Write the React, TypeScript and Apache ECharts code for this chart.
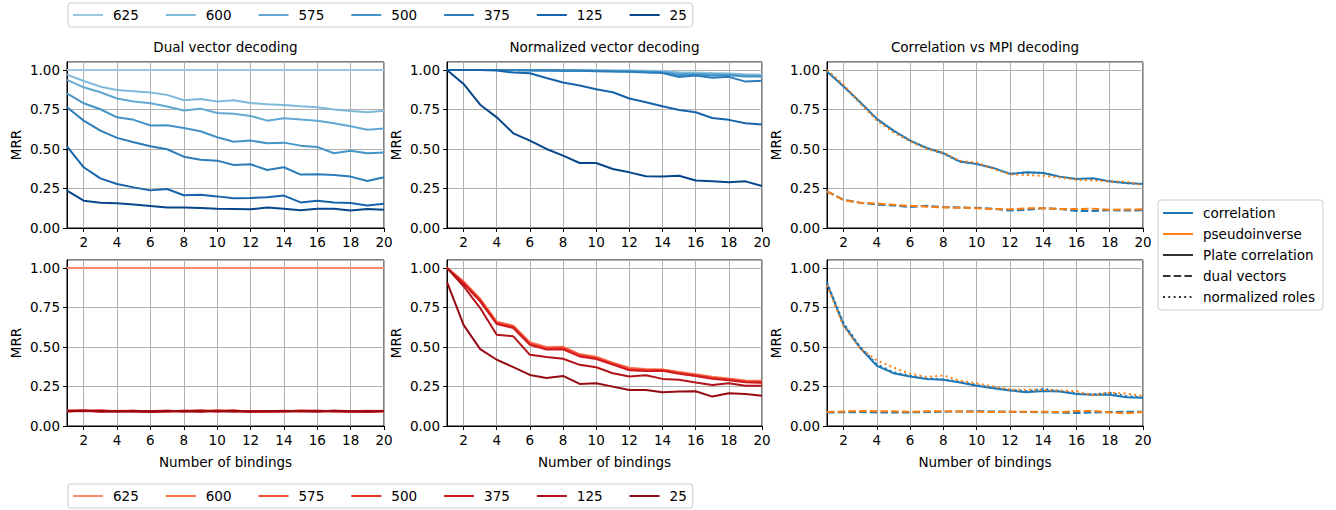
import React, { useEffect, useRef } from "react";
import * as echarts from "echarts";

const xs = ["1","2","3","4","5","6","7","8","9","10","11","12","13","14","15","16","17","18","19","20"];
const sizeLabels = ["625", "600", "575", "500", "375", "125", "25"];
const blueColors = ["#9ac8e0", "#7fb9da", "#62a8d3", "#4594c7", "#2c7dba", "#1764ab", "#08468b"];
const redColors = ["#fc8a6a", "#fb6e4e", "#f5533b", "#e63328", "#cf1c1f", "#b21218", "#960b13"];
const panelTitles = ["Dual vector decoding", "Normalized vector decoding", "Correlation vs MPI decoding"];
const rightLegendNames = ["correlation", "pseudoinverse", "Plate correlation", "dual vectors", "normalized roles"];

// Top-left: dual vector decoding (blues)
const dualB625 = [1,1,1,1,1,1,1,1,1,1,1,1,1,1,1,1,1,1,1,1];
const dualB600 = [0.97,0.93,0.894,0.873,0.865,0.857,0.842,0.808,0.816,0.8,0.808,0.79,0.783,0.778,0.77,0.764,0.749,0.74,0.732,0.742];
const dualB575 = [0.937,0.89,0.859,0.819,0.8,0.789,0.768,0.743,0.755,0.728,0.722,0.709,0.679,0.694,0.686,0.679,0.662,0.643,0.622,0.629];
const dualB500 = [0.852,0.789,0.751,0.7,0.684,0.648,0.65,0.633,0.612,0.574,0.546,0.553,0.536,0.54,0.521,0.513,0.473,0.489,0.473,0.477];
const dualB375 = [0.764,0.679,0.616,0.57,0.542,0.517,0.498,0.451,0.432,0.426,0.399,0.403,0.367,0.384,0.338,0.34,0.335,0.325,0.297,0.321];
const dualB125 = [0.517,0.384,0.314,0.278,0.257,0.238,0.247,0.207,0.211,0.2,0.188,0.19,0.194,0.205,0.162,0.173,0.162,0.158,0.143,0.154];
const dualB25 = [0.236,0.173,0.16,0.156,0.148,0.139,0.129,0.129,0.127,0.122,0.12,0.118,0.129,0.122,0.112,0.122,0.122,0.11,0.12,0.116];

// Top-middle: normalized vector decoding (blues)
const normB625 = [1,1,1,1,1,1,1,0.999,0.999,0.998,0.997,0.997,0.995,0.993,0.985,0.983,0.98,0.978,0.972,0.97];
const normB600 = [1,1,1,1,1,0.999,0.999,0.998,0.997,0.996,0.995,0.994,0.992,0.99,0.98,0.978,0.976,0.975,0.968,0.967];
const normB575 = [1,1,1,1,0.999,0.999,0.998,0.997,0.996,0.995,0.993,0.992,0.99,0.987,0.975,0.975,0.972,0.97,0.963,0.962];
const normB500 = [1,1,1,1,0.999,0.998,0.997,0.996,0.995,0.993,0.991,0.99,0.986,0.983,0.968,0.97,0.965,0.966,0.958,0.958];
const normB375 = [1,1,1,0.999,0.998,0.997,0.996,0.995,0.994,0.992,0.99,0.988,0.984,0.98,0.955,0.965,0.95,0.956,0.926,0.932];
const normB125 = [1,1,1,0.996,0.983,0.979,0.949,0.92,0.901,0.878,0.859,0.819,0.795,0.77,0.747,0.732,0.696,0.684,0.662,0.654];
const normB25 = [1,0.911,0.78,0.7,0.599,0.553,0.5,0.458,0.411,0.411,0.373,0.352,0.327,0.325,0.331,0.3,0.295,0.289,0.295,0.266];

// Bottom-left: dual vector decoding (reds)
const dualR625 = [1,1,1,1,1,1,1,1,1,1,1,1,1,1,1,1,1,1,1,1];
const dualR600 = [0.095,0.098,0.092,0.096,0.094,0.09,0.095,0.093,0.097,0.096,0.097,0.09,0.092,0.094,0.096,0.093,0.095,0.09,0.094,0.092];
const dualR575 = [0.092,0.095,0.1,0.093,0.096,0.092,0.093,0.096,0.092,0.1,0.095,0.093,0.09,0.095,0.093,0.096,0.092,0.093,0.097,0.095];
const dualR500 = [0.098,0.1,0.095,0.092,0.093,0.095,0.097,0.094,0.096,0.092,0.1,0.088,0.094,0.092,0.098,0.095,0.094,0.092,0.09,0.093];
const dualR375 = [0.094,0.097,0.09,0.095,0.097,0.089,0.094,0.095,0.09,0.096,0.093,0.095,0.093,0.097,0.093,0.09,0.097,0.095,0.092,0.096];
const dualR125 = [0.096,0.094,0.096,0.094,0.092,0.093,0.092,0.096,0.098,0.094,0.092,0.094,0.095,0.093,0.095,0.097,0.093,0.091,0.095,0.094];
const dualR25 = [0.093,0.096,0.094,0.092,0.095,0.091,0.096,0.092,0.094,0.093,0.095,0.092,0.093,0.095,0.094,0.094,0.096,0.093,0.092,0.095];

// Bottom-middle: normalized vector decoding (reds)
const normR625 = [1,0.915,0.805,0.66,0.635,0.53,0.5,0.502,0.455,0.438,0.4,0.368,0.36,0.358,0.342,0.327,0.312,0.3,0.288,0.286];
const normR600 = [1,0.912,0.802,0.657,0.632,0.527,0.496,0.499,0.452,0.435,0.398,0.365,0.357,0.356,0.34,0.325,0.309,0.298,0.285,0.283];
const normR575 = [1,0.908,0.798,0.653,0.628,0.522,0.491,0.495,0.448,0.431,0.395,0.36,0.354,0.354,0.337,0.322,0.305,0.295,0.282,0.28];
const normR500 = [1,0.905,0.794,0.65,0.625,0.518,0.488,0.49,0.444,0.428,0.392,0.356,0.351,0.352,0.334,0.319,0.302,0.292,0.279,0.277];
const normR375 = [1,0.9,0.788,0.645,0.62,0.513,0.484,0.485,0.44,0.424,0.388,0.352,0.348,0.35,0.331,0.316,0.299,0.289,0.276,0.274];
const normR125 = [1,0.884,0.746,0.577,0.567,0.45,0.436,0.425,0.387,0.372,0.334,0.313,0.321,0.298,0.292,0.275,0.26,0.27,0.254,0.254];
const normR25 = [0.91,0.64,0.486,0.419,0.372,0.323,0.304,0.317,0.266,0.27,0.249,0.228,0.228,0.214,0.218,0.22,0.186,0.207,0.203,0.192];

// Top-right: correlation vs MPI (first setting)
const mpiTopCorrPlate = [0.99,0.895,0.795,0.69,0.616,0.553,0.506,0.473,0.42,0.405,0.38,0.342,0.352,0.348,0.325,0.31,0.314,0.295,0.285,0.278];
const mpiTopCorrNorm = [1,0.9,0.79,0.685,0.612,0.55,0.503,0.47,0.418,0.41,0.378,0.345,0.35,0.35,0.322,0.308,0.31,0.293,0.284,0.276];
const mpiTopPinvNorm = [1,0.905,0.79,0.68,0.605,0.548,0.5,0.475,0.425,0.413,0.375,0.34,0.335,0.33,0.32,0.305,0.3,0.295,0.293,0.27];
const mpiTopCorrDual = [0.232,0.178,0.16,0.148,0.143,0.133,0.14,0.133,0.13,0.128,0.122,0.11,0.115,0.125,0.12,0.108,0.108,0.112,0.11,0.113];
const mpiTopPinvDual = [0.232,0.175,0.16,0.155,0.147,0.14,0.135,0.13,0.128,0.125,0.12,0.118,0.125,0.125,0.12,0.12,0.122,0.115,0.117,0.118];

// Bottom-right: correlation vs MPI (second setting)
const mpiBotCorrPlate = [0.9,0.64,0.493,0.381,0.334,0.313,0.298,0.292,0.275,0.254,0.239,0.224,0.214,0.222,0.218,0.203,0.197,0.197,0.182,0.178];
const mpiBotCorrNorm = [0.91,0.65,0.5,0.39,0.34,0.318,0.3,0.295,0.278,0.26,0.242,0.228,0.222,0.235,0.22,0.205,0.2,0.21,0.19,0.18];
const mpiBotPinvNorm = [0.89,0.63,0.49,0.415,0.37,0.33,0.31,0.32,0.285,0.27,0.25,0.23,0.23,0.228,0.225,0.22,0.195,0.21,0.205,0.19];
const mpiBotCorrDual = [0.085,0.087,0.088,0.086,0.085,0.086,0.088,0.09,0.092,0.093,0.092,0.09,0.088,0.087,0.085,0.082,0.085,0.088,0.09,0.09];
const mpiBotPinvDual = [0.088,0.092,0.095,0.094,0.093,0.09,0.094,0.093,0.092,0.09,0.088,0.09,0.09,0.09,0.088,0.095,0.095,0.085,0.08,0.088];

const FONT = "DejaVu Sans";
const FS = 13.5;
const C_BLUE = "#1f77b4";
const C_ORANGE = "#ff7f0e";
const C_DARK = "#333333";
const DASH = [7.5, 3.2];
const DOT = [2, 3.3];

const gridBoxes = [
  { left: 67, top: 62 }, { left: 447, top: 62 }, { left: 827, top: 62 },
  { left: 67, top: 260 }, { left: 447, top: 260 }, { left: 827, top: 260 },
];
const gridWidths = [317, 315, 316, 317, 315, 316];

export default function App() {
  const ref = useRef<HTMLDivElement>(null);
  useEffect(() => {
    if (!ref.current) return;
    const chart = echarts.init(ref.current, null, { renderer: "svg" });
    const evenFn = (index: number) => index % 2 === 1;

    const grids = gridBoxes.map((g, i) => ({
      left: g.left, top: g.top, width: gridWidths[i], height: 166,
      show: true, borderColor: "#000", borderWidth: 1, backgroundColor: "transparent",
    }));

    const xAxes = gridBoxes.map((_, i) => ({
      gridIndex: i, type: "category", data: xs, boundaryGap: false,
      axisLine: { show: true, onZero: false, lineStyle: { color: "#000", width: 1 } },
      axisTick: { show: true, interval: evenFn, length: 4, lineStyle: { color: "#000" } },
      axisLabel: { interval: evenFn, margin: 7, color: "#000", fontSize: FS, fontFamily: FONT },
      splitLine: { show: true, interval: evenFn, lineStyle: { color: "#b0b0b0", width: 1 } },
      name: i >= 3 ? "Number of bindings" : "",
      nameLocation: "middle", nameGap: 29,
      nameTextStyle: { color: "#000", fontSize: FS, fontFamily: FONT },
    }));

    const yAxes = gridBoxes.map((_, i) => ({
      gridIndex: i, type: "value", min: 0, max: 1.05, interval: 0.25,
      axisLine: { show: true, lineStyle: { color: "#000", width: 1 } },
      axisTick: { show: true, length: 4, lineStyle: { color: "#000" } },
      axisLabel: { showMaxLabel: false, margin: 7, color: "#000", fontSize: FS, fontFamily: FONT,
        formatter: (v: number) => v.toFixed(2) },
      splitLine: { show: true, lineStyle: { color: "#b0b0b0", width: 1 } },
      name: "MRR", nameLocation: "middle", nameGap: 44,
      nameTextStyle: { color: "#000", fontSize: FS, fontFamily: FONT },
    }));

    const line = (name: string, data: number[], grid: number, color: string, type: any = "solid") => ({
      type: "line", name, data, xAxisIndex: grid, yAxisIndex: grid,
      symbol: "none", silent: true, color,
      itemStyle: { color },
      lineStyle: { color, width: 2, type },
    });

    const dualB = [dualB625, dualB600, dualB575, dualB500, dualB375, dualB125, dualB25];
    const normB = [normB625, normB600, normB575, normB500, normB375, normB125, normB25];
    const dualR = [dualR625, dualR600, dualR575, dualR500, dualR375, dualR125, dualR25];
    const normR = [normR625, normR600, normR575, normR500, normR375, normR125, normR25];

    const series: any[] = [];
    sizeLabels.forEach((s, k) => {
      series.push(line("b" + s, dualB[k], 0, blueColors[k]));
    });
    sizeLabels.forEach((s, k) => {
      series.push(line("b" + s, normB[k], 1, blueColors[k]));
    });
    sizeLabels.forEach((s, k) => {
      series.push(line("r" + s, dualR[k], 3, redColors[k]));
    });
    sizeLabels.forEach((s, k) => {
      series.push(line("r" + s, normR[k], 4, redColors[k]));
    });

    // legend-only series for the right-hand legend
    series.push(line("correlation", [], 2, C_BLUE));
    series.push(line("pseudoinverse", [], 2, C_ORANGE));
    series.push(line("Plate correlation", [], 2, C_DARK));
    series.push(line("dual vectors", [], 2, C_DARK, DASH));
    series.push(line("normalized roles", [], 2, C_DARK, DOT));

    series.push(line("top corr plate", mpiTopCorrPlate, 2, C_BLUE));
    series.push(line("top corr dual", mpiTopCorrDual, 2, C_BLUE, DASH));
    series.push(line("top corr norm", mpiTopCorrNorm, 2, C_BLUE, DOT));
    series.push(line("top pinv dual", mpiTopPinvDual, 2, C_ORANGE, DASH));
    series.push(line("top pinv norm", mpiTopPinvNorm, 2, C_ORANGE, DOT));

    series.push(line("bot corr plate", mpiBotCorrPlate, 5, C_BLUE));
    series.push(line("bot corr dual", mpiBotCorrDual, 5, C_BLUE, DASH));
    series.push(line("bot corr norm", mpiBotCorrNorm, 5, C_BLUE, DOT));
    series.push(line("bot pinv dual", mpiBotPinvDual, 5, C_ORANGE, DASH));
    series.push(line("bot pinv norm", mpiBotPinvNorm, 5, C_ORANGE, DOT));

    const legendBase = {
      orient: "horizontal", itemWidth: 30, itemHeight: 14, itemGap: 26,
      selectedMode: false,
      borderColor: "#cccccc", borderWidth: 1, borderRadius: 3,
      padding: [5, 6, 5, 4],
      backgroundColor: "#fff",
      itemStyle: { opacity: 0 },
      formatter: (n: string) => n.slice(1),
      textStyle: { color: "#000", fontSize: FS, fontFamily: FONT, padding: [0, 0, 0, 5] },
    };

    const titleCenters = [225.5, 604.5, 985];

    chart.setOption({
      animation: false,
      backgroundColor: "#fff",
      grid: grids,
      xAxis: xAxes,
      yAxis: yAxes,
      legend: [
        { ...legendBase, left: 68, top: 3, data: sizeLabels.map((s) => "b" + s) },
        { ...legendBase, left: 68, top: 484, data: sizeLabels.map((s) => "r" + s) },
        {
          orient: "vertical", left: 1158, top: 200, itemWidth: 30, itemHeight: 14, itemGap: 7,
          selectedMode: false,
          borderColor: "#cccccc", borderWidth: 1, borderRadius: 3,
          padding: [6, 8, 6, 4], backgroundColor: "#fff",
          itemStyle: { opacity: 0 },
          data: rightLegendNames,
          textStyle: { color: "#000", fontSize: FS, fontFamily: FONT, padding: [0, 0, 0, 5] },
        },
      ],
      graphic: panelTitles.map((t, i) => ({
        type: "text", x: titleCenters[i], y: 47, silent: true,
        style: { text: t, textAlign: "center", textVerticalAlign: "middle",
          fontSize: FS, fontFamily: FONT, fill: "#000" },
      })),
      series,
    });
    return () => chart.dispose();
  }, []);
  return (
    <div
      ref={ref}
      style={{ position: "fixed", left: 0, top: 0, width: 1336, height: 510, background: "#fff" }}
    />
  );
}
